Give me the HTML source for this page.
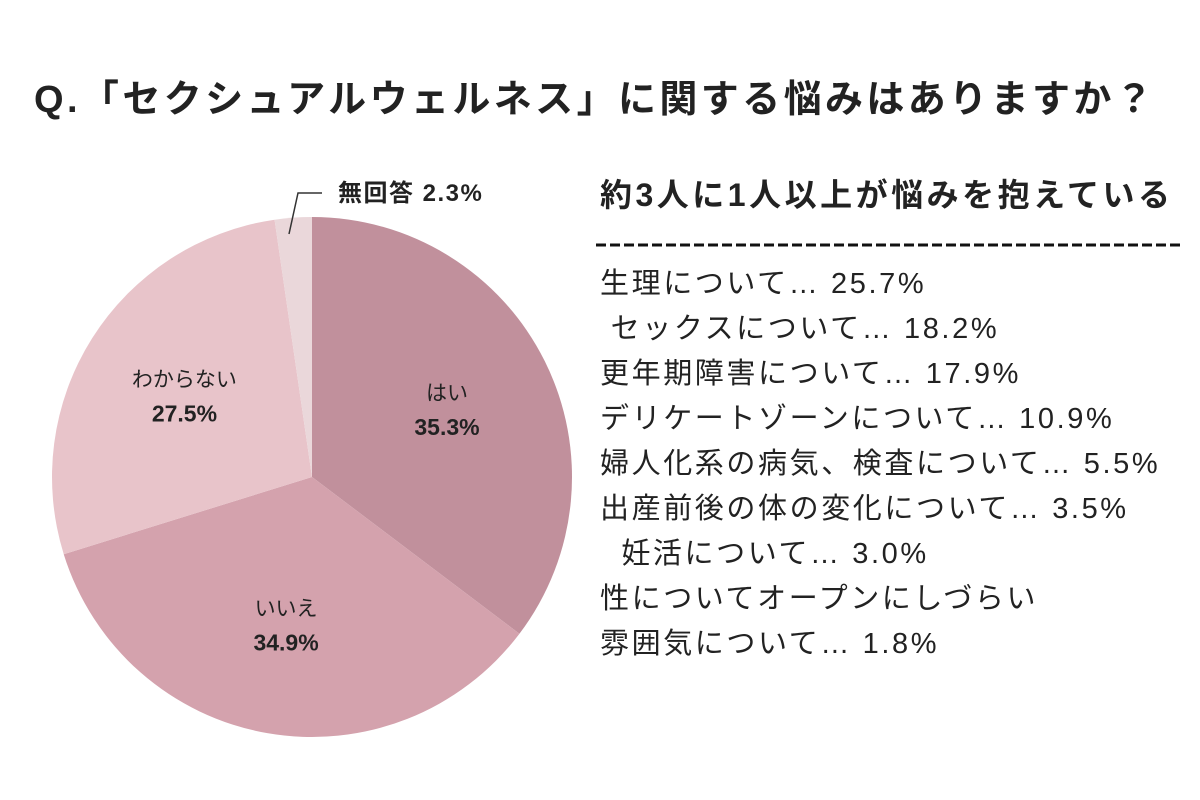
<!DOCTYPE html>
<html><head><meta charset="utf-8"><style>
body{margin:0;width:1200px;height:800px;background:#fff;overflow:hidden;font-family:"Liberation Sans","Noto Sans CJK JP",sans-serif;color:#222}
.t{position:absolute;white-space:nowrap}
</style></head><body>
<div class="t" style="left:34px;top:68px;font-size:38px;font-weight:bold;letter-spacing:3.4px">Q.「セクシュアルウェルネス」に関する悩みはありますか？</div>
<svg width="1200" height="800" style="position:absolute;left:0;top:0">
<g id="pie"></g>
<line x1="596" y1="245" x2="1180" y2="245" stroke="#111" stroke-width="3" stroke-dasharray="10,4"/>
<polyline points="289,234 298,193 322,193" fill="none" stroke="#333" stroke-width="1.5"/>
</svg>
<div class="t" style="left:338px;top:173px;font-size:24px;font-weight:bold;letter-spacing:1.5px">無回答 2.3%</div>
<div class="t" style="left:600px;top:170px;font-size:32px;font-weight:bold;letter-spacing:3.5px">約3人に1人以上が悩みを抱えている</div>
<div id="list" style="position:absolute;left:600px;top:262px;font-size:29px;line-height:45px;letter-spacing:2.6px"></div>
<script>
const categories=["はい","いいえ","わからない","無回答"];
const values=[35.3,34.9,27.5,2.3];
const colors=["#c1909c","#d4a2ad","#e8c4ca","#ead7da"];
const items=["生理について… 25.7%"," セックスについて… 18.2%","更年期障害について… 17.9%","デリケートゾーンについて… 10.9%","婦人化系の病気、検査について… 5.5%","出産前後の体の変化について… 3.5%","  妊活について… 3.0%","性についてオープンにしづらい","雰囲気について… 1.8%"];
const cx=312,cy=477,r=260;
const g=document.getElementById('pie');
const total=values.reduce((a,b)=>a+b,0);
let a0=0;
values.forEach((v,i)=>{
  const a1=a0+v/total*2*Math.PI;
  const p=(a)=>[cx+r*Math.sin(a),cy-r*Math.cos(a)];
  const [x0,y0]=p(a0),[x1,y1]=p(a1);
  const path=document.createElementNS('http://www.w3.org/2000/svg','path');
  path.setAttribute('d',`M${cx},${cy}L${x0},${y0}A${r},${r} 0 ${a1-a0>Math.PI?1:0} 1 ${x1},${y1}Z`);
  path.setAttribute('fill',colors[i]);
  
  
  g.appendChild(path);
  if(i<3){
    const m=(a0+a1)/2,lr=r*0.58;
    const lx=cx+lr*Math.sin(m),ly=cy-lr*Math.cos(m);
    const t1=document.createElementNS('http://www.w3.org/2000/svg','text');
    t1.setAttribute('x',lx);t1.setAttribute('y',ly-10);t1.setAttribute('text-anchor','middle');
    t1.setAttribute('font-size','21');t1.setAttribute('fill','#222');t1.textContent=categories[i];
    
    
    g.appendChild(t1);
    const t2=document.createElementNS('http://www.w3.org/2000/svg','text');
    t2.setAttribute('x',lx);t2.setAttribute('y',ly+25);t2.setAttribute('text-anchor','middle');
    t2.setAttribute('font-size','23');t2.setAttribute('font-weight','bold');t2.setAttribute('fill','#222');t2.textContent=values[i].toFixed(1)+'%';
    
    
    g.appendChild(t2);
  }
  a0=a1;
});
const list=document.getElementById('list');
items.forEach(s=>{const d=document.createElement('div');d.style.whiteSpace='pre';d.textContent=s;


list.appendChild(d);});
</script>
</body></html>
